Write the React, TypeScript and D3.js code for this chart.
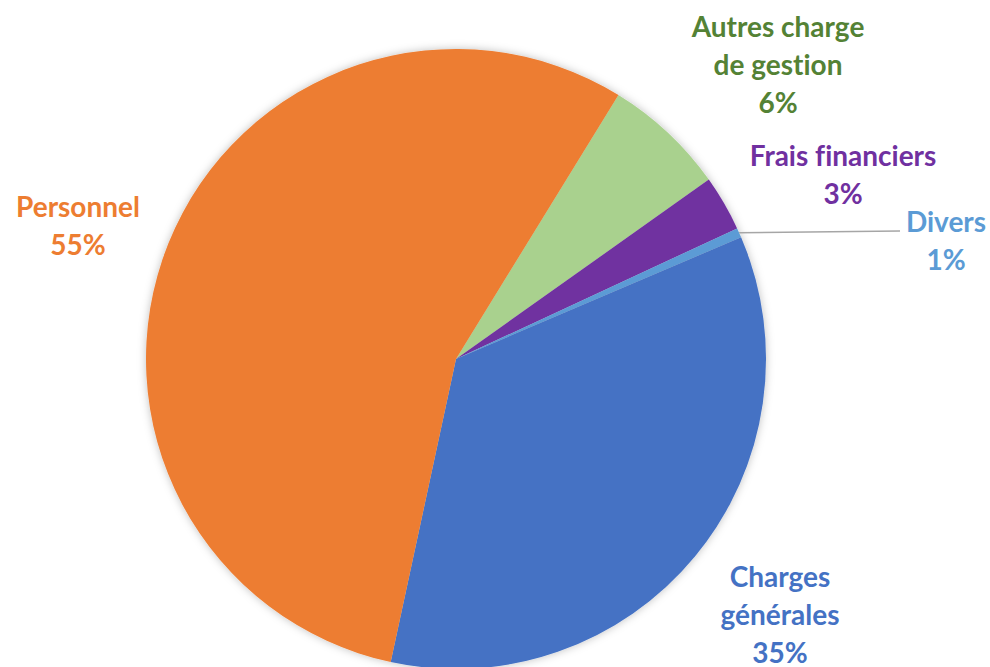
import * as d3 from "d3";

const categories = ["Autres charge de gestion", "Frais financiers", "Divers", "Charges générales", "Personnel"];
const values = [6.4, 2.9, 0.5, 34.8, 55.4];
const labelLines = [["Autres charge", "de gestion"], ["Frais financiers"], ["Divers"], ["Charges", "générales"], ["Personnel"]];
const sliceColors = ["#A9D18E", "#7030A0", "#5B9BD5", "#4472C4", "#ED7D31"];
const textColors = ["#548235", "#7030A0", "#5B9BD5", "#4472C4", "#ED7D31"];

// label centre (x) and first-line baseline (y), hand-placed like Excel's best fit
const labelAnchors: [number, number][] = [[778, 37], [843, 166], [946, 232], [780, 587], [78, 217]];

const W = 990;
const H = 667;
const cx = 456;
const cy = 359;
const R = 310;
const lineH = 38;

export default function App() {
  const pie = d3
    .pie<number>()
    .sort(null)
    .startAngle((31.6 * Math.PI) / 180)
    .endAngle((31.6 * Math.PI) / 180 + 2 * Math.PI);
  const arcs = pie(values);
  const arc = d3.arc<d3.PieArcDatum<number>>().innerRadius(0).outerRadius(R);
  const total = d3.sum(values);

  // leader line for the small "Divers" slice
  const dv = arcs[2];
  const mid = (dv.startAngle + dv.endAngle) / 2;
  const lx = cx + Math.sin(mid) * R;
  const ly = cy - Math.cos(mid) * R;

  return (
    <svg width={W} height={H} style={{ position: "absolute", left: 0, top: 0, background: "#fff" }}>
      <defs>
        <filter id="sh" x="-10%" y="-10%" width="120%" height="120%">
          <feDropShadow dx="0" dy="0" stdDeviation="4" floodColor="#000" floodOpacity="0.25" />
        </filter>
      </defs>
      <g transform={`translate(${cx},${cy})`} filter="url(#sh)">
        {arcs.map((a, i) => (
          <path key={categories[i]} d={arc(a) || ""} fill={sliceColors[i]} />
        ))}
      </g>
      <line x1={lx} y1={ly} x2={900} y2={231} stroke="#A6A6A6" strokeWidth={1.5} />
      {labelLines.map((lines, i) => {
        const [x, y] = labelAnchors[i];
        const pct = `${Math.round((values[i] / total) * 100)}%`;
        return (
          <text
            key={categories[i]}
            x={x}
            y={y}
            textAnchor="middle"
            fill={textColors[i]}
            fontFamily="Lato, 'Open Sans', sans-serif"
            fontWeight={700}
            fontSize={28}
            style={{ fontVariantLigatures: "none" }}
          >
            {[...lines, pct].map((t, j) => (
              <tspan key={j} x={x} y={y + j * lineH}>
                {t}
              </tspan>
            ))}
          </text>
        );
      })}
    </svg>
  );
}
